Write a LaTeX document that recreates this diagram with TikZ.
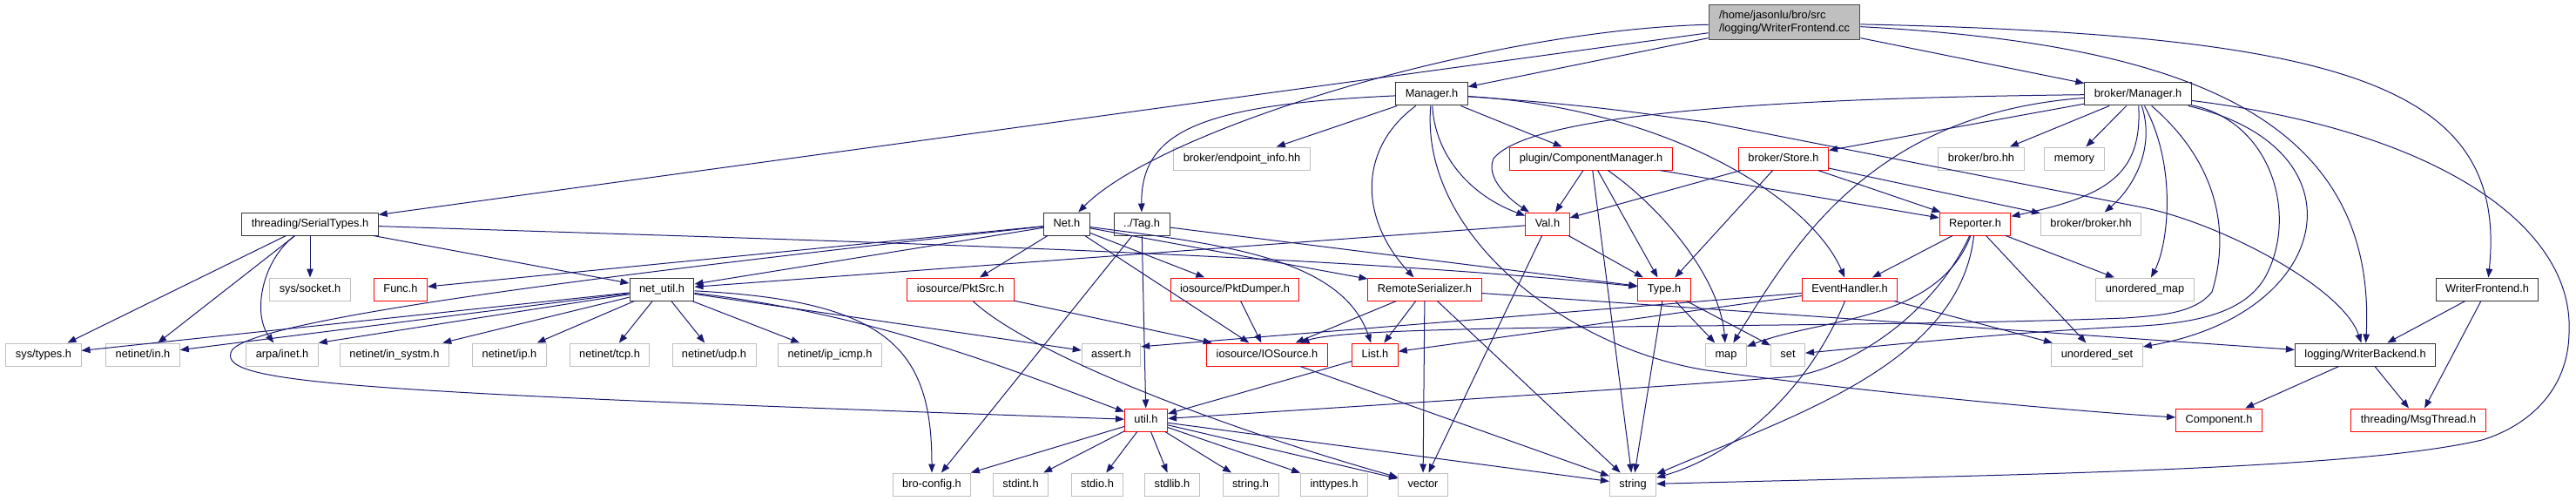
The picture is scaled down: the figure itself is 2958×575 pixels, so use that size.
\documentclass[tikz,border=0pt]{standalone}
\usepackage{fontspec}
\setmainfont{Liberation Sans}
\usetikzlibrary{arrows.meta}
\definecolor{edgeblue}{RGB}{25,25,112}
\newcommand{\graphfont}{\fontsize{12.8}{15}\selectfont}

\begin{document}
\begin{tikzpicture}[x=1pt,y=-1pt,>={Triangle[length=10pt,width=7.5pt]},
    base/.style={line width=1pt,font=\graphfont,inner xsep=11pt,inner ysep=2pt,minimum height=26pt,fill=white},
    filebox/.style={base,draw=black!80,text height=9.4pt,text depth=2.6pt},
    redbox/.style={filebox,draw=red},
    sysbox/.style={filebox,draw=gray!50},
    rootbox/.style={base,draw=black!70,fill=gray!50,align=left,inner xsep=12pt,minimum height=40pt},
    dep/.style={->,draw=edgeblue,line width=1pt}]
  \useasboundingbox (0,0) rectangle (2958,575);

  \node[rootbox] (root) at (2049,26) {/home/jasonlu/bro/src\\/logging/WriterFrontend.cc};

  \node[filebox] (mgr) at (1644,108) {Manager.h};
  \node[filebox] (bmgr) at (2455,108) {broker/Manager.h};

  \node[sysbox] (epinfo) at (1426,182) {broker/endpoint\_info.hh};
  \node[redbox] (compmgr) at (1827,182) {plugin/ComponentManager.h};
  \node[redbox] (store) at (2048,182) {broker/Store.h};
  \node[sysbox] (brohh) at (2275,182) {broker/bro.hh};
  \node[sysbox] (memory) at (2382,182) {memory};

  \node[filebox] (serial) at (356,257) {threading/SerialTypes.h};
  \node[filebox] (net) at (1225,257) {Net.h};
  \node[filebox] (tag) at (1311,257) {../Tag.h};
  \node[redbox] (val) at (1777,257) {Val.h};
  \node[redbox] (reporter) at (2268,257) {Reporter.h};
  \node[sysbox] (brokerhh) at (2401,257) {broker/broker.hh};

  \node[sysbox] (socket) at (356,332) {sys/socket.h};
  \node[redbox] (func) at (460,332) {Func.h};
  \node[filebox] (netutil) at (760,332) {net\_util.h};
  \node[redbox] (pktsrc) at (1103,332) {iosource/PktSrc.h};
  \node[redbox] (pktdump) at (1418,332) {iosource/PktDumper.h};
  \node[redbox] (remser) at (1636,332) {RemoteSerializer.h};
  \node[redbox] (type) at (1911,332) {Type.h};
  \node[redbox] (evh) at (2124,332) {EventHandler.h};
  \node[sysbox] (umap) at (2463,332) {unordered\_map};
  \node[filebox] (wfront) at (2856,332) {WriterFrontend.h};

  \node[sysbox] (systypes) at (50,407) {sys/types.h};
  \node[sysbox] (netin) at (164,407) {netinet/in.h};
  \node[sysbox] (arpa) at (324,407) {arpa/inet.h};
  \node[sysbox] (insystm) at (453,407) {netinet/in\_systm.h};
  \node[sysbox] (ip) at (585,407) {netinet/ip.h};
  \node[sysbox] (tcp) at (700,407) {netinet/tcp.h};
  \node[sysbox] (udp) at (820,407) {netinet/udp.h};
  \node[sysbox] (icmp) at (953,407) {netinet/ip\_icmp.h};
  \node[sysbox] (assert) at (1276,407) {assert.h};
  \node[redbox] (iosrc) at (1455,407) {iosource/IOSource.h};
  \node[redbox] (list) at (1579,407) {List.h};
  \node[sysbox] (map) at (1982,407) {map};
  \node[sysbox] (set) at (2053,407) {set};
  \node[sysbox] (uset) at (2408,407) {unordered\_set};
  \node[filebox] (wback) at (2716,407) {logging/WriterBackend.h};

  \node[redbox] (util) at (1316,482) {util.h};
  \node[redbox] (comp) at (2548,482) {Component.h};
  \node[redbox] (msgthr) at (2777,482) {threading/MsgThread.h};

  \node[sysbox] (broconf) at (1070,556) {bro-config.h};
  \node[sysbox] (stdint) at (1172,556) {stdint.h};
  \node[sysbox] (stdio) at (1260,556) {stdio.h};
  \node[sysbox] (stdlib) at (1346,556) {stdlib.h};
  \node[sysbox] (stringh) at (1436,556) {string.h};
  \node[sysbox] (inttypes) at (1532,556) {inttypes.h};
  \node[sysbox] (vector) at (1634,556) {vector};
  \node[sysbox] (string) at (1875,556) {string};

  \draw[dep] (root) .. controls (1700,35) and (1330,150) .. (net);
  \draw[dep] (root) -- (serial); \draw[dep] (root) -- (mgr); \draw[dep] (root) -- (bmgr);
  \draw[dep] (root) .. controls (2700,40) and (2880,100) .. (wfront);
  \draw[dep] (root) .. controls (2500,50) and (2730,130) .. (wback);

  \draw[dep] (mgr) .. controls (1380,120) and (1310,150) .. (tag);
  \draw[dep] (mgr) -- (epinfo); \draw[dep] (mgr) -- (compmgr);
  \draw[dep] (mgr) .. controls (1560,170) and (1560,250) .. (remser);
  \draw[dep] (mgr) .. controls (1648,180) and (1690,225) .. (val);
  \draw[dep] (mgr) .. controls (1630,270) and (1800,400) .. (1960,425) .. controls (2100,445) and (2350,470) .. (comp);
  \draw[dep] (mgr) .. controls (1920,125) and (2080,230) .. (evh);
  \draw[dep] (mgr) .. controls (1850,122) and (1900,133) .. (1960,140) -- (2460,238) .. controls (2550,256) and (2690,330) .. (wback);

  \draw[dep] (bmgr) .. controls (2100,112) and (1760,125) .. (1715,182) .. controls (1705,205) and (1735,230) .. (val);
  \draw[dep] (bmgr) .. controls (2150,130) and (2060,280) .. (map);
  \draw[dep] (bmgr) -- (store); \draw[dep] (bmgr) -- (brohh); \draw[dep] (bmgr) -- (memory);
  \draw[dep] (bmgr) .. controls (2460,200) and (2420,225) .. (reporter);
  \draw[dep] (bmgr) .. controls (2475,170) and (2450,215) .. (brokerhh);
  \draw[dep] (bmgr) .. controls (2500,190) and (2490,280) .. (umap);
  \draw[dep] (bmgr) .. controls (2550,190) and (2560,270) .. (2540,335) .. controls (2520,360) and (2480,362) .. (2440,365) .. controls (2100,378) and (1560,370) .. (iosrc);
  \draw[dep] (bmgr) .. controls (2610,140) and (2640,250) .. (2600,320) .. controls (2575,360) and (2520,372) .. (2440,375) .. controls (2300,382) and (2150,398) .. (set);
  \draw[dep] (bmgr) .. controls (2720,170) and (2680,360) .. (uset);
  \draw[dep] (bmgr) .. controls (2800,150) and (2955,260) .. (2950,380) .. controls (2950,450) and (2900,490) .. (2850,505) .. controls (2700,540) and (2300,545) .. (string);

  \draw[dep] (compmgr) -- (val); \draw[dep] (compmgr) -- (string); \draw[dep] (compmgr) -- (type);
  \draw[dep] (compmgr) .. controls (1910,240) and (1975,320) .. (map);
  \draw[dep] (compmgr) -- (reporter);

  \draw[dep] (store) -- (val); \draw[dep] (store) -- (type);
  \draw[dep] (store) -- (reporter); \draw[dep] (store) -- (brokerhh);

  \draw[dep] (serial) -- (systypes); \draw[dep] (serial) -- (netin);
  \draw[dep] (serial) .. controls (300,300) and (290,360) .. (arpa);
  \draw[dep] (serial) -- (socket); \draw[dep] (serial) -- (netutil);
  \draw[dep] (serial) .. controls (900,275) and (1500,290) .. (type);

  \draw[dep] (net) -- (netutil); \draw[dep] (net) -- (func);
  \draw[dep] (net) .. controls (650,320) and (270,370) .. (265,405) .. controls (255,440) and (400,450) .. (util);
  \draw[dep] (net) -- (pktsrc); \draw[dep] (net) -- (iosrc); \draw[dep] (net) -- (pktdump);
  \draw[dep] (net) .. controls (1400,280) and (1540,295) .. (list);
  \draw[dep] (net) -- (remser);

  \draw[dep] (tag) -- (broconf); \draw[dep] (tag) -- (util); \draw[dep] (tag) -- (type);

  \draw[dep] (val) -- (netutil); \draw[dep] (val) -- (type); \draw[dep] (val) -- (vector);

  \draw[dep] (reporter) -- (evh);
  \draw[dep] (reporter) .. controls (2225,370) and (2090,365) .. (map);
  \draw[dep] (reporter) .. controls (2220,360) and (2130,420) .. (2060,432) .. controls (1900,445) and (1500,470) .. (util);
  \draw[dep] (reporter) .. controls (2250,420) and (2050,480) .. (string);
  \draw[dep] (reporter) -- (uset); \draw[dep] (reporter) -- (umap);

  \draw[dep] (evh) -- (assert.15); \draw[dep] (evh) -- (list);
  \draw[dep] (evh) .. controls (2080,440) and (2000,520) .. (string);
  \draw[dep] (evh) -- (uset);

  \draw[dep] (type) -- (map); \draw[dep] (type) -- (set); \draw[dep] (type) -- (string);

  \draw[dep] (remser) -- (iosrc); \draw[dep] (remser) -- (list); \draw[dep] (remser) -- (vector);
  \draw[dep] (remser) -- (string); \draw[dep] (remser) -- (wback);

  \draw[dep] (netutil) -- (systypes); \draw[dep] (netutil) -- (netin);
  \draw[dep] (netutil) -- (arpa.north east); \draw[dep] (netutil) -- (insystm);
  \draw[dep] (netutil) -- (ip); \draw[dep] (netutil) -- (tcp);
  \draw[dep] (netutil) -- (udp); \draw[dep] (netutil) -- (icmp);
  \draw[dep] (netutil) -- (assert);
  \draw[dep] (netutil) .. controls (1000,360) and (1150,420) .. (util);
  \draw[dep] (netutil) .. controls (1020,345) and (1070,400) .. (broconf);

  \draw[dep] (pktsrc) -- (iosrc);
  \draw[dep] (pktsrc) .. controls (1180,405) and (1400,490) .. (vector);
  \draw[dep] (pktdump) -- (iosrc);
  \draw[dep] (iosrc) -- (string);
  \draw[dep] (list) -- (util);

  \draw[dep] (util) -- (broconf); \draw[dep] (util) -- (stdint); \draw[dep] (util) -- (stdio);
  \draw[dep] (util) -- (stdlib); \draw[dep] (util) -- (stringh); \draw[dep] (util) -- (inttypes);
  \draw[dep] (util) -- (vector); \draw[dep] (util) -- (string);

  \draw[dep] (wfront) -- (wback); \draw[dep] (wfront) -- (msgthr);
  \draw[dep] (wback) -- (comp); \draw[dep] (wback) -- (msgthr);
\end{tikzpicture}
\end{document}
